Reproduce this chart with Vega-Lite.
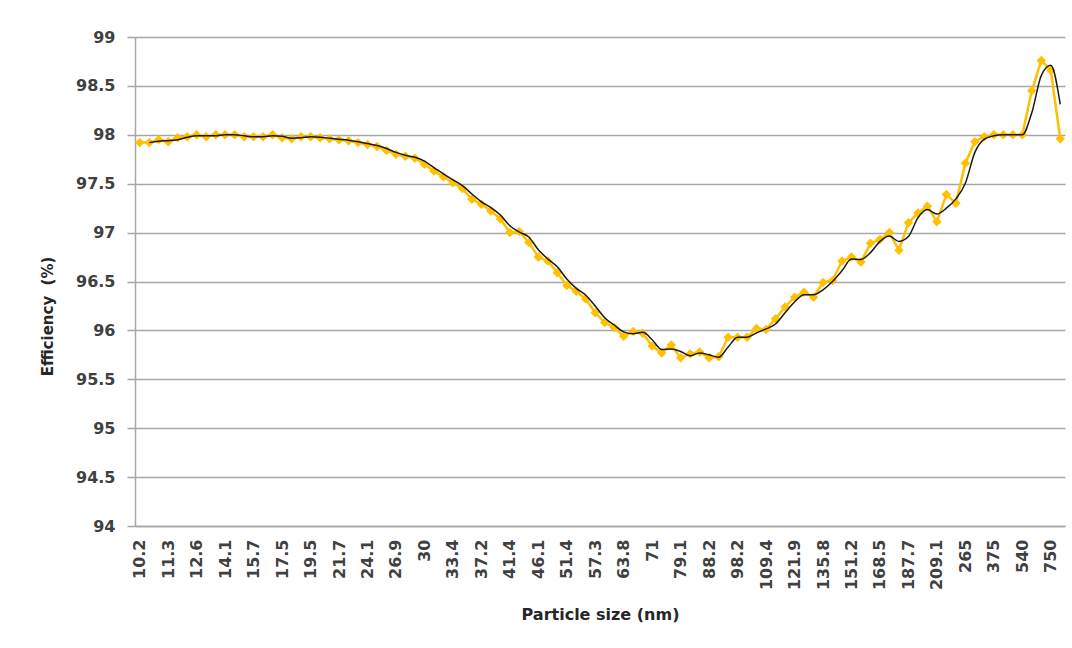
{
  "$schema": "https://vega.github.io/schema/vega-lite/v6.json",
  "width": 930,
  "height": 489,
  "autosize": "none",
  "padding": {"left": 135, "top": 37, "right": 7, "bottom": 122},
  "background": "white",
  "config": {
    "view": {"stroke": null},
    "font": "DejaVu Sans",
    "axis": {
      "labelFont": "DejaVu Sans",
      "titleFont": "DejaVu Sans",
      "labelFontWeight": "bold",
      "titleFontWeight": "bold",
      "labelColor": "#404040",
      "titleColor": "#262626",
      "domainColor": "#a6a6a6",
      "tickColor": "#a6a6a6",
      "gridColor": "#a6a6a6"
    }
  },
  "data": {
    "values": [
      {"size": "10.2", "eff": 97.92, "trend": null},
      {"size": "10.6", "eff": 97.92, "trend": 97.92},
      {"size": "10.9", "eff": 97.95, "trend": 97.935},
      {"size": "11.3", "eff": 97.93, "trend": 97.94},
      {"size": "11.8", "eff": 97.97, "trend": 97.95},
      {"size": "12.2", "eff": 97.98, "trend": 97.975},
      {"size": "12.6", "eff": 98.0, "trend": 97.99},
      {"size": "13.1", "eff": 97.98, "trend": 97.99},
      {"size": "13.6", "eff": 98.0, "trend": 97.99},
      {"size": "14.1", "eff": 98.0, "trend": 98.0},
      {"size": "14.6", "eff": 98.0, "trend": 98.0},
      {"size": "15.1", "eff": 97.98, "trend": 97.99},
      {"size": "15.7", "eff": 97.98, "trend": 97.98},
      {"size": "16.3", "eff": 97.98, "trend": 97.98},
      {"size": "16.8", "eff": 98.0, "trend": 97.99},
      {"size": "17.5", "eff": 97.97, "trend": 97.985},
      {"size": "18.1", "eff": 97.96, "trend": 97.965},
      {"size": "18.8", "eff": 97.98, "trend": 97.97},
      {"size": "19.5", "eff": 97.98, "trend": 97.98},
      {"size": "20.2", "eff": 97.97, "trend": 97.975},
      {"size": "20.9", "eff": 97.96, "trend": 97.965},
      {"size": "21.7", "eff": 97.95, "trend": 97.955},
      {"size": "22.5", "eff": 97.94, "trend": 97.945},
      {"size": "23.3", "eff": 97.92, "trend": 97.93},
      {"size": "24.1", "eff": 97.9, "trend": 97.91},
      {"size": "25", "eff": 97.88, "trend": 97.89},
      {"size": "25.9", "eff": 97.84, "trend": 97.86},
      {"size": "26.9", "eff": 97.8, "trend": 97.82},
      {"size": "27.9", "eff": 97.78, "trend": 97.79},
      {"size": "28.9", "eff": 97.76, "trend": 97.77},
      {"size": "30", "eff": 97.7, "trend": 97.73},
      {"size": "31.1", "eff": 97.63, "trend": 97.665},
      {"size": "32.2", "eff": 97.57, "trend": 97.6},
      {"size": "33.4", "eff": 97.51, "trend": 97.54},
      {"size": "34.6", "eff": 97.45, "trend": 97.48},
      {"size": "35.9", "eff": 97.34, "trend": 97.395},
      {"size": "37.2", "eff": 97.29, "trend": 97.315},
      {"size": "38.5", "eff": 97.22, "trend": 97.255},
      {"size": "40", "eff": 97.14, "trend": 97.18},
      {"size": "41.4", "eff": 97.0, "trend": 97.07},
      {"size": "42.9", "eff": 97.01, "trend": 97.005},
      {"size": "44.5", "eff": 96.9, "trend": 96.955},
      {"size": "46.1", "eff": 96.75, "trend": 96.825},
      {"size": "47.8", "eff": 96.71, "trend": 96.73},
      {"size": "49.6", "eff": 96.59, "trend": 96.65},
      {"size": "51.4", "eff": 96.46, "trend": 96.525},
      {"size": "53.3", "eff": 96.4, "trend": 96.43},
      {"size": "55.2", "eff": 96.32, "trend": 96.36},
      {"size": "57.3", "eff": 96.18, "trend": 96.25},
      {"size": "59.4", "eff": 96.08, "trend": 96.13},
      {"size": "61.5", "eff": 96.03, "trend": 96.055},
      {"size": "63.8", "eff": 95.94, "trend": 95.985},
      {"size": "66.1", "eff": 95.99, "trend": 95.965},
      {"size": "68.5", "eff": 95.97, "trend": 95.98},
      {"size": "71", "eff": 95.84, "trend": 95.905},
      {"size": "73.7", "eff": 95.77, "trend": 95.805},
      {"size": "76.4", "eff": 95.85, "trend": 95.81},
      {"size": "79.1", "eff": 95.72, "trend": 95.785},
      {"size": "82", "eff": 95.76, "trend": 95.74},
      {"size": "85.1", "eff": 95.78, "trend": 95.77},
      {"size": "88.2", "eff": 95.72, "trend": 95.75},
      {"size": "91.4", "eff": 95.73, "trend": 95.725},
      {"size": "94.7", "eff": 95.93, "trend": 95.83},
      {"size": "98.2", "eff": 95.93, "trend": 95.93},
      {"size": "101.8", "eff": 95.93, "trend": 95.93},
      {"size": "105.5", "eff": 96.02, "trend": 95.975},
      {"size": "109.4", "eff": 96.01, "trend": 96.015},
      {"size": "113.4", "eff": 96.12, "trend": 96.065},
      {"size": "117.6", "eff": 96.24, "trend": 96.18},
      {"size": "121.9", "eff": 96.34, "trend": 96.29},
      {"size": "126.3", "eff": 96.39, "trend": 96.365},
      {"size": "131", "eff": 96.34, "trend": 96.365},
      {"size": "135.8", "eff": 96.49, "trend": 96.415},
      {"size": "140.7", "eff": 96.51, "trend": 96.5},
      {"size": "145.9", "eff": 96.71, "trend": 96.61},
      {"size": "151.2", "eff": 96.75, "trend": 96.73},
      {"size": "156.8", "eff": 96.7, "trend": 96.725},
      {"size": "162.5", "eff": 96.89, "trend": 96.795},
      {"size": "168.5", "eff": 96.93, "trend": 96.91},
      {"size": "174.7", "eff": 97.0, "trend": 96.965},
      {"size": "181.1", "eff": 96.82, "trend": 96.91},
      {"size": "187.7", "eff": 97.1, "trend": 96.96},
      {"size": "194.6", "eff": 97.2, "trend": 97.15},
      {"size": "201.7", "eff": 97.27, "trend": 97.235},
      {"size": "209.1", "eff": 97.11, "trend": 97.19},
      {"size": "225", "eff": 97.39, "trend": 97.25},
      {"size": "245", "eff": 97.3, "trend": 97.345},
      {"size": "265", "eff": 97.71, "trend": 97.505},
      {"size": "300", "eff": 97.93, "trend": 97.82},
      {"size": "340", "eff": 97.98, "trend": 97.955},
      {"size": "375", "eff": 98.0, "trend": 97.99},
      {"size": "420", "eff": 98.0, "trend": 98.0},
      {"size": "480", "eff": 98.0, "trend": 98.0},
      {"size": "540", "eff": 98.0, "trend": 98.0},
      {"size": "610", "eff": 98.45, "trend": 98.225},
      {"size": "680", "eff": 98.76, "trend": 98.605},
      {"size": "750", "eff": 98.66, "trend": 98.71},
      {"size": "850", "eff": 97.96, "trend": 98.31}
    ]
  },
  "layer": [
    {
      "mark": {
        "type": "line",
        "color": "#FFC000",
        "strokeWidth": 2.5,
        "point": {"shape": "diamond", "size": 90, "filled": true, "color": "#FFC000", "opacity": 1}
      },
      "encoding": {
        "x": {
          "field": "size",
          "type": "nominal",
          "sort": null,
          "scale": {"type": "point", "padding": 0.5},
          "axis": {
            "title": "Particle size (nm)",
            "values": ["10.2","11.3","12.6","14.1","15.7","17.5","19.5","21.7","24.1","26.9","30","33.4","37.2","41.4","46.1","51.4","57.3","63.8","71","79.1","88.2","98.2","109.4","121.9","135.8","151.2","168.5","187.7","209.1","265","375","540","750"],
            "labelAngle": -90,
            "labelFontSize": 16,
            "labelPadding": 13,
            "ticks": false,
            "grid": false,
            "domainWidth": 1.5,
            "titleFontSize": 16,
            "titleY": 80,
            "titleBaseline": "top"
          }
        },
        "y": {
          "field": "eff",
          "type": "quantitative",
          "scale": {"domain": [94, 99], "nice": false, "zero": false},
          "axis": {
            "title": "Efficiency\u00a0 (%)",
            "values": [94, 94.5, 95, 95.5, 96, 96.5, 97, 97.5, 98, 98.5, 99],
            "format": "~g",
            "labelFontSize": 16,
            "labelPadding": 12,
            "tickSize": 8,
            "tickWidth": 1.5,
            "domainWidth": 1.5,
            "gridWidth": 1.5,
            "titleFontSize": 15,
            "titleAngle": -90,
            "titleX": -88,
            "titleY": 279,
            "titleAlign": "center",
            "titleBaseline": "middle"
          }
        }
      }
    },
    {
      "mark": {"type": "line", "color": "#1a1a1a", "strokeWidth": 1.5, "interpolate": "monotone"},
      "encoding": {
        "x": {"field": "size", "type": "nominal", "sort": null},
        "y": {"field": "trend", "type": "quantitative"}
      }
    }
  ]
}
